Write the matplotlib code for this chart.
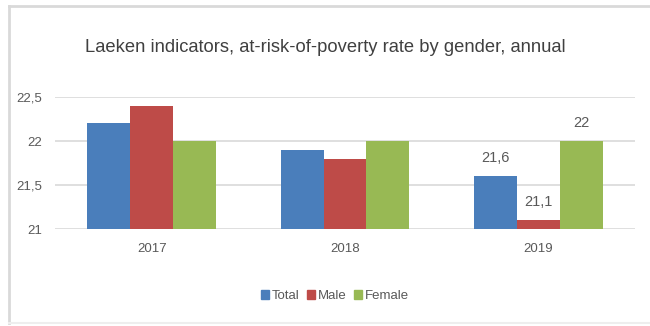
import matplotlib.pyplot as plt
import numpy as np
from matplotlib.lines import Line2D

years = ['2017', '2018', '2019']
total = [22.2, 21.9, 21.6]
male = [22.4, 21.8, 21.1]
female = [22.0, 22.0, 22.0]
series_names = ['Total', 'Male', 'Female']
colors = ['#4a7ebb', '#be4b48', '#98b954']
yticks = [21, 21.5, 22, 22.5]
ytick_labels = ['21', '21,5', '22', '22,5']

plt.rcParams['font.family'] = ['Liberation Sans', 'DejaVu Sans']
txt = '#595959'

fig = plt.figure(figsize=(6.5, 3.26), dpi=100)
W, H = 650, 326
ax = fig.add_axes([55 / W, 1 - 229 / H, 580 / W, (229 - 97) / H])

x = np.arange(len(years))
w = 0.222
for i, (vals, name) in enumerate(zip([total, male, female], series_names)):
    pos = x + (i - 1) * w
    ax.bar(pos, np.array(vals) - 21, width=w, bottom=21, color=colors[i],
           label=name, zorder=3)
    # only the last year carries value labels
    v = vals[-1]
    lab = ('%g' % v).replace('.', ',')
    ax.text(pos[-1], v + 0.13, lab, ha='center', va='bottom', fontsize=10.5, color=txt)

ax.set_xlim(-0.5, 2.5)
ax.set_ylim(21, 22.5)
ax.set_yticks(yticks)
ax.set_yticklabels(ytick_labels)
ax.set_xticks(x)
ax.set_xticklabels(years)
ax.grid(axis='y', color='#d9d9d9', linewidth=1.2, zorder=0)
ax.tick_params(length=0, labelsize=9.5, colors=txt, pad=10)
ax.tick_params(axis='y', pad=9)
for s in ax.spines.values():
    s.set_visible(False)

fig.text(0.5, 1 - 47 / H, 'Laeken indicators, at-risk-of-poverty rate by gender, annual',
         ha='center', va='center', fontsize=13.2, color='#404040')

handles = [plt.Rectangle((0, 0), 1, 1, color=c) for c in colors]
fig.legend(handles, series_names, loc='center', bbox_to_anchor=(335 / W, 1 - 296 / H),
           ncol=3, frameon=False, fontsize=9.5, handlelength=0.6, handleheight=0.6,
           handletextpad=0.2, columnspacing=0.6, labelcolor=txt)

# outer chart frame
fig.add_artist(Line2D([9 / W, 9 / W], [1 - 6 / H, 1 - 323 / H], color='#d9d9d9', lw=2,
                      transform=fig.transFigure))
fig.add_artist(Line2D([9 / W, 1], [1 - 6 / H, 1 - 6 / H], color='#d9d9d9', lw=2,
                      transform=fig.transFigure))
fig.add_artist(Line2D([9 / W, 1], [1 - 323 / H, 1 - 323 / H], color='#eeeeee', lw=1.5,
                      transform=fig.transFigure))

fig.savefig('out.png', dpi=100)
